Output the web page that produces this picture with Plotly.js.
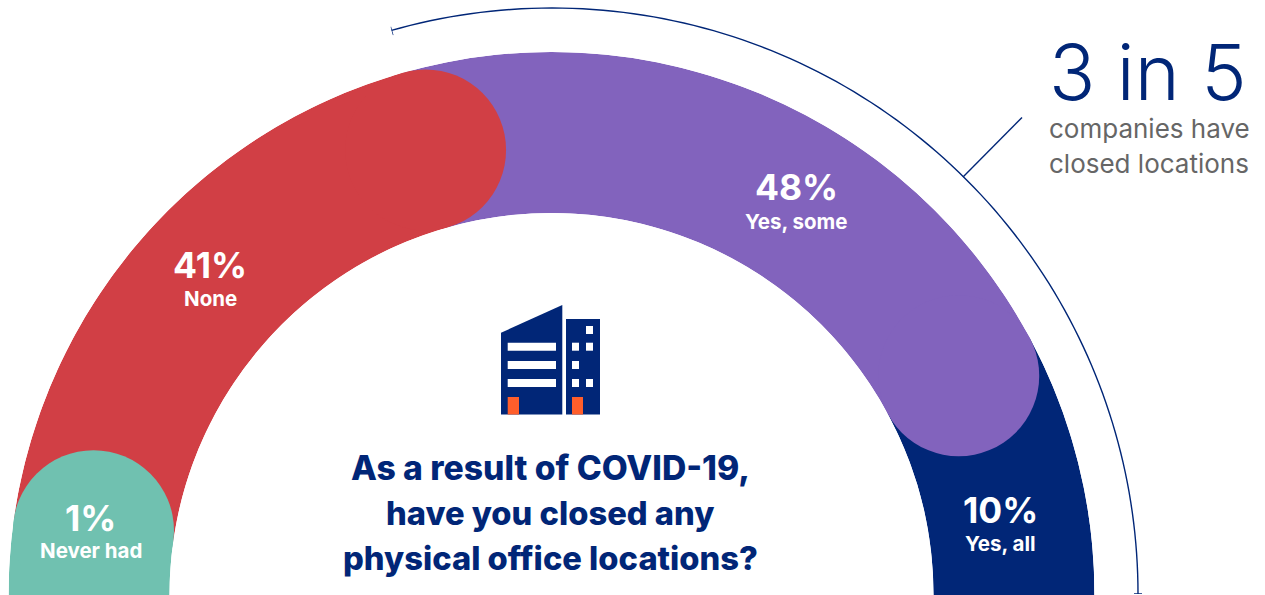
<!DOCTYPE html>
<html>
<head>
<meta charset="utf-8">
<script src="https://cdn.plot.ly/plotly-3.0.1.min.js"></script>
<style>html,body{margin:0;padding:0;background:#fff;overflow:hidden}#chart{width:1265px;height:595px}</style>
</head>
<body>
<div id="chart"></div>
<script>
// Data
const categories = ['Yes, all', 'Yes, some', 'None', 'Never had'];
const percents = [10, 48, 41, 1];
const colors = ['#012677', '#8263BD', '#D13F45', '#70C1B0'];
// Arc extents as drawn in the picture (degrees, 0 = right end, 180 = left end)
const arcStart = [0, 28.3, 105.8, 172];
const arcEnd = [28.3, 105.8, 172, 180];
const labelX = [1000, 796, 210, 90.5];
const labelPctY = [510, 187, 265, 518];
const labelCatY = [543, 221.5, 298.5, 550.5];
const titleLines = ['As a result of COVID-19,', 'have you closed any', 'physical office locations?'];
const titleY = [467, 513, 558];
const titleSize = [33.7, 32.7, 32.7];
const bracketEnd = 105.9;

const W = 1265, H = 595, NAVY = '#012677';
const FONT = 'Inter, "Noto Sans", sans-serif';
const R_OUT = 543, R_IN = 382, CX = 551.5, CY = 595;
const BX = 552, BY = 594, R_BR = 586, R_BR_AXIS = 590; // bracket centre, radius and its own radial range

const traces = [{
  type: 'barpolar',
  theta: arcStart.map((s, i) => (s + arcEnd[i]) / 2),
  width: arcStart.map((s, i) => arcEnd[i] - s),
  r: percents.map(() => 1),
  base: percents.map(() => 0),
  marker: {color: colors, line: {width: 0}},
  hoverinfo: 'skip'
}];
// rounded caps: one disc at the start of each band that overlaps its neighbour
[1, 2, 3].forEach(i => traces.push({
  type: 'scatterpolar', mode: 'markers', theta: [arcStart[i]], r: [0.5],
  marker: {color: colors[i], size: R_OUT - R_IN, line: {width: 0}},
  cliponaxis: false, hoverinfo: 'skip'
}));
// bracket arc and its end ticks, on a second polar subplot with a wider radial range
const arcTheta = [];
for (let t = 0; t <= bracketEnd; t += 1) arcTheta.push(t);
arcTheta.push(bracketEnd);
const guide = (theta, r) => ({
  type: 'scatterpolar', subplot: 'polar2', mode: 'lines', theta, r,
  line: {color: NAVY, width: 1.4}, cliponaxis: false, hoverinfo: 'skip'
});
traces.push(guide(arcTheta, arcTheta.map(() => R_BR)));
traces.push(guide([bracketEnd, bracketEnd], [R_BR - 5, R_BR + 4]));
traces.push(guide([0, 0], [R_BR - 4, R_BR + 4]));

const px = x => x / W, py = y => 1 - y / H;
const ann = (text, x, y, size, color, weight, anchor) => ({
  text, x: px(x), y: py(y), xref: 'paper', yref: 'paper',
  xanchor: anchor || 'center', yanchor: 'middle', showarrow: false,
  font: {family: FONT, size, color, weight}
});
const annotations = [];
categories.forEach((c, i) => {
  annotations.push(ann(percents[i] + '%', labelX[i], labelPctY[i], 35.5, '#fff', 700));
  annotations.push(ann(c, labelX[i], labelCatY[i], 20.5, '#fff', 700));
});
titleLines.forEach((t, i) => annotations.push(ann(t, 550, titleY[i], titleSize[i], NAVY, 800)));
annotations.push(ann('3 in 5', 1148, 72, 76.5, NAVY, 300));
annotations.push(ann('companies have', 1046.5, 128, 26, '#666666', 400, 'left'));
annotations.push(ann('closed locations', 1046.5, 163, 26, '#666666', 400, 'left'));

// building icon and leader line
const rect = (x0, y0, x1, y1, c) => ({
  type: 'rect', xref: 'paper', yref: 'paper', x0: px(x0), x1: px(x1), y0: py(y0), y1: py(y1),
  fillcolor: c, line: {width: 0}, layer: 'above'
});
const shapes = [
  {type: 'line', xref: 'paper', yref: 'paper', x0: px(963), y0: py(177), x1: px(1022), y1: py(117.5),
   line: {color: NAVY, width: 1.4}, layer: 'above'},
  {type: 'path', xref: 'paper', yref: 'paper', fillcolor: NAVY, line: {width: 0}, layer: 'above',
   path: `M${px(501)} ${py(332.7)} L${px(562.3)} ${py(305)} L${px(562.3)} ${py(414.5)} L${px(501)} ${py(414.5)} Z`},
  rect(566, 319, 600, 414.5, NAVY),
  rect(507.7, 342.7, 556, 350.7, '#fff'),
  rect(507.7, 361, 556, 369, '#fff'),
  rect(507.7, 379, 556, 387, '#fff'),
  rect(507.7, 397, 519, 414.5, '#FF5E2B'),
  rect(572, 397, 583, 414.5, '#FF5E2B'),
  rect(586, 326, 593, 334, '#fff'),
  rect(572, 342.7, 579, 350.7, '#fff'),
  rect(586, 342.7, 593, 350.7, '#fff'),
  rect(572, 361, 579, 369, '#fff'),
  rect(572, 379, 579, 387, '#fff'),
  rect(586, 379, 593, 387, '#fff')
];

const hiddenAngular = {visible: false, direction: 'counterclockwise', rotation: 0, thetaunit: 'degrees'};
const leftOfCentre = -R_BR_AXIS * Math.cos(bracketEnd * Math.PI / 180);
const layout = {
  width: W, height: H, margin: {l: 0, r: 0, t: 0, b: 0},
  paper_bgcolor: '#fff', showlegend: false,
  polar: {
    domain: {x: [(CX - R_OUT) / W, (CX + R_OUT) / W], y: [(H - CY) / H, (H - CY + R_OUT) / H]},
    sector: [0, 180], hole: R_IN / R_OUT, bgcolor: 'rgba(0,0,0,0)',
    radialaxis: {visible: false, range: [0, 1]},
    angularaxis: hiddenAngular
  },
  polar2: {
    domain: {x: [(BX - leftOfCentre) / W, (BX + R_BR_AXIS) / W], y: [(H - BY) / H, (H - BY + R_BR_AXIS) / H]},
    sector: [0, bracketEnd], bgcolor: 'rgba(0,0,0,0)',
    radialaxis: {visible: false, range: [0, R_BR_AXIS]},
    angularaxis: hiddenAngular
  },
  annotations, shapes
};
Plotly.newPlot('chart', traces, layout, {displayModeBar: false, staticPlot: true});
</script>
</body>
</html>
